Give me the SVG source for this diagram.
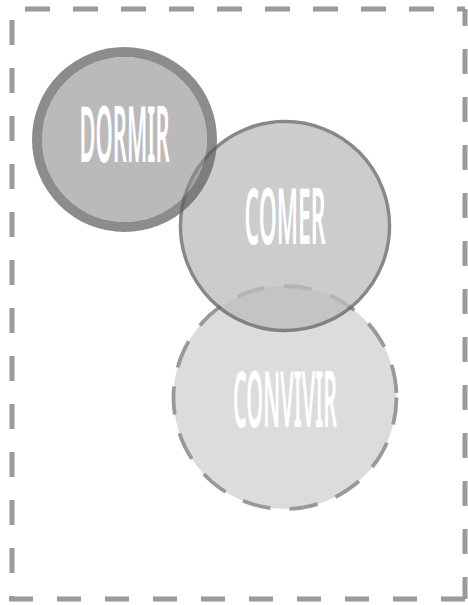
<svg xmlns="http://www.w3.org/2000/svg" width="468" height="605" viewBox="0 0 468 605">
  <defs>
    <style>
      .frame line { stroke: #9a9a9a; stroke-width: 5; fill: none; }
      .label { fill: #ffffff; font-family: "Noto Sans", "Liberation Sans", sans-serif; font-stretch: 62.5%; font-weight: 600; font-size: 77px; text-anchor: middle; }
    </style>
  </defs>
  <rect width="468" height="605" fill="#ffffff"/>

  <!-- dashed outer frame, one line per edge -->
  <g id="frame" class="frame">
    <line x1="12" y1="9" x2="465" y2="9" stroke-dasharray="25 23" stroke-dashoffset="35"/>
    <line x1="465" y1="9" x2="465" y2="599" stroke-dasharray="25 23" stroke-dashoffset="8"/>
    <line x1="465" y1="599" x2="9" y2="599" stroke-dasharray="24 24"/>
    <line x1="12" y1="599" x2="12" y2="9" stroke-dasharray="25 23" stroke-dashoffset="-26"/>
  </g>

  <g id="connectors"></g>

  <!-- labels are drawn at double width and squeezed to half -->
  <g id="convivir">
    <circle cx="285" cy="397.5" r="111.5" fill="#dcdcdc" stroke="#999999" stroke-width="3.8" stroke-dasharray="28.5 19.2" stroke-dashoffset="1.2"/>
    <text class="label" transform="translate(285 427) scale(0.5 1)" textLength="208" lengthAdjust="spacingAndGlyphs">CONVIVIR</text>
  </g>

  <g id="comer">
    <circle cx="285" cy="226" r="102.8" fill="#bdbdbd" fill-opacity="0.77"/>
    <circle cx="285" cy="226" r="104.5" fill="none" stroke="#6a6a6a" stroke-opacity="0.8" stroke-width="3.5"/>
    <text class="label" transform="translate(285 243.5) scale(0.5 1)" textLength="162" lengthAdjust="spacingAndGlyphs">COMER</text>
  </g>

  <g id="dormir">
    <circle cx="124.5" cy="139.5" r="82.5" fill="#8c8c8c" fill-opacity="0.6"/>
    <circle cx="124.5" cy="139.5" r="87.5" fill="none" stroke="#5b5b5b" stroke-opacity="0.7" stroke-width="10"/>
    <text class="label" transform="translate(124.5 162) scale(0.5 1)" textLength="180" lengthAdjust="spacingAndGlyphs">DORMIR</text>
  </g>
</svg>
